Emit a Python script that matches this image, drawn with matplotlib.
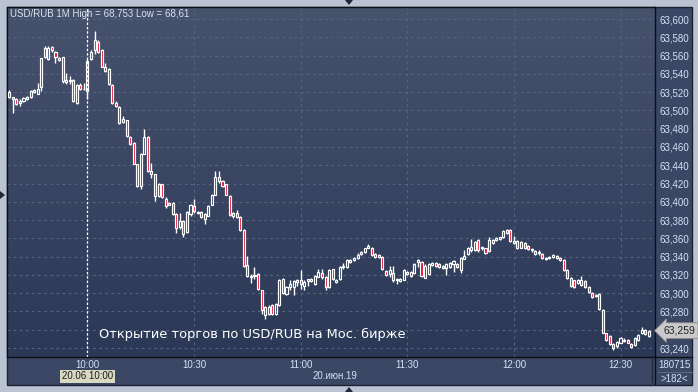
import matplotlib
matplotlib.use('Agg')
import matplotlib.pyplot as plt
import numpy as np
from matplotlib.colors import LinearSegmentedColormap
from matplotlib.patches import Rectangle, Polygon
from matplotlib.lines import Line2D

# 1-minute USD/RUB candles, 09:38 .. 12:38 (20.06.19)
opens = [
    63.515, 63.513, 63.513, 63.508, 63.510, 63.512, 63.515, 63.520, 63.518, 63.526,
    63.558, 63.556, 63.569, 63.564, 63.555, 63.558, 63.531, 63.532, 63.533, 63.508,
    63.528, 63.523, 63.521, 63.556, 63.566, 63.575, 63.566, 63.548, 63.545, 63.528,
    63.508, 63.504, 63.487, 63.489, 63.471, 63.464, 63.441, 63.417, 63.452, 63.471,
    63.434, 63.430, 63.406, 63.419, 63.403, 63.397, 63.399, 63.387, 63.372, 63.379,
    63.367, 63.387, 63.395, 63.388, 63.389, 63.381, 63.385, 63.397, 63.408, 63.427,
    63.423, 63.419, 63.406, 63.385, 63.388, 63.383, 63.369, 63.331, 63.318, 63.319,
    63.321, 63.303, 63.276, 63.277, 63.287, 63.277, 63.287, 63.316, 63.299, 63.307,
    63.307, 63.312, 63.314, 63.308, 63.313, 63.316, 63.310, 63.318, 63.322, 63.318,
    63.307, 63.326, 63.312, 63.316, 63.329, 63.329, 63.334, 63.336, 63.338, 63.343,
    63.345, 63.350, 63.350, 63.343, 63.340, 63.340, 63.324, 63.321, 63.322, 63.314,
    63.313, 63.315, 63.321, 63.319, 63.322, 63.334, 63.334, 63.317, 63.321, 63.331,
    63.333, 63.329, 63.330, 63.328, 63.329, 63.332, 63.332, 63.325, 63.337, 63.343,
    63.347, 63.347, 63.358, 63.350, 63.349, 63.346, 63.355, 63.358, 63.359, 63.361,
    63.369, 63.369, 63.355, 63.357, 63.350, 63.355, 63.352, 63.347, 63.346, 63.344,
    63.343, 63.339, 63.338, 63.340, 63.341, 63.339, 63.336, 63.325, 63.317, 63.314,
    63.311, 63.309, 63.313, 63.307, 63.300, 63.297, 63.299, 63.282, 63.256, 63.253,
    63.244, 63.242, 63.246, 63.248, 63.249, 63.244, 63.243, 63.249, 63.256, 63.260,
    63.253,
]
closes = [
    63.520, 63.515, 63.507, 63.510, 63.514, 63.515, 63.521, 63.522, 63.524, 63.557,
    63.568, 63.568, 63.566, 63.558, 63.557, 63.532, 63.533, 63.533, 63.510, 63.528,
    63.524, 63.524, 63.554, 63.564, 63.577, 63.564, 63.548, 63.543, 63.529, 63.508,
    63.505, 63.486, 63.491, 63.472, 63.463, 63.441, 63.417, 63.452, 63.471, 63.434,
    63.430, 63.406, 63.420, 63.405, 63.395, 63.399, 63.387, 63.371, 63.379, 63.365,
    63.389, 63.396, 63.390, 63.389, 63.383, 63.387, 63.395, 63.408, 63.427, 63.423,
    63.417, 63.408, 63.386, 63.388, 63.383, 63.369, 63.330, 63.319, 63.319, 63.320,
    63.305, 63.282, 63.285, 63.285, 63.277, 63.288, 63.315, 63.300, 63.307, 63.310,
    63.313, 63.315, 63.310, 63.312, 63.316, 63.313, 63.319, 63.323, 63.318, 63.307,
    63.325, 63.316, 63.315, 63.329, 63.330, 63.336, 63.336, 63.339, 63.342, 63.345,
    63.349, 63.352, 63.342, 63.340, 63.342, 63.326, 63.320, 63.325, 63.315, 63.316,
    63.316, 63.325, 63.323, 63.323, 63.332, 63.336, 63.319, 63.330, 63.332, 63.333,
    63.330, 63.332, 63.328, 63.332, 63.333, 63.335, 63.329, 63.339, 63.341, 63.350,
    63.351, 63.356, 63.347, 63.351, 63.344, 63.358, 63.358, 63.360, 63.361, 63.368,
    63.366, 63.357, 63.357, 63.349, 63.356, 63.349, 63.348, 63.348, 63.343, 63.345,
    63.338, 63.337, 63.340, 63.342, 63.338, 63.336, 63.325, 63.317, 63.308, 63.307,
    63.315, 63.315, 63.307, 63.301, 63.296, 63.298, 63.283, 63.257, 63.249, 63.244,
    63.240, 63.247, 63.251, 63.249, 63.246, 63.241, 63.251, 63.254, 63.260, 63.255,
    63.259,
]
highs = [
    63.522, 63.515, 63.514, 63.512, 63.515, 63.516, 63.522, 63.523, 63.530, 63.557,
    63.570, 63.570, 63.571, 63.565, 63.558, 63.559, 63.541, 63.538, 63.534, 63.529,
    63.530, 63.530, 63.556, 63.566, 63.587, 63.577, 63.567, 63.552, 63.546, 63.529,
    63.510, 63.505, 63.494, 63.490, 63.472, 63.465, 63.441, 63.453, 63.480, 63.472,
    63.442, 63.431, 63.421, 63.420, 63.405, 63.400, 63.400, 63.388, 63.388, 63.380,
    63.390, 63.398, 63.403, 63.390, 63.390, 63.388, 63.396, 63.409, 63.434, 63.434,
    63.424, 63.420, 63.407, 63.389, 63.391, 63.384, 63.370, 63.341, 63.321, 63.329,
    63.322, 63.304, 63.286, 63.287, 63.288, 63.289, 63.316, 63.317, 63.308, 63.315,
    63.315, 63.316, 63.325, 63.314, 63.316, 63.317, 63.320, 63.327, 63.327, 63.319,
    63.326, 63.327, 63.316, 63.330, 63.333, 63.337, 63.337, 63.340, 63.344, 63.346,
    63.350, 63.354, 63.351, 63.344, 63.343, 63.341, 63.325, 63.330, 63.330, 63.317,
    63.317, 63.327, 63.324, 63.324, 63.333, 63.337, 63.335, 63.332, 63.333, 63.334,
    63.334, 63.333, 63.331, 63.333, 63.334, 63.336, 63.333, 63.340, 63.347, 63.351,
    63.359, 63.357, 63.359, 63.352, 63.350, 63.361, 63.359, 63.361, 63.362, 63.369,
    63.370, 63.370, 63.363, 63.358, 63.357, 63.356, 63.353, 63.350, 63.347, 63.347,
    63.344, 63.340, 63.341, 63.343, 63.342, 63.340, 63.337, 63.326, 63.318, 63.315,
    63.316, 63.319, 63.314, 63.308, 63.301, 63.299, 63.300, 63.283, 63.257, 63.254,
    63.245, 63.248, 63.252, 63.251, 63.250, 63.245, 63.252, 63.255, 63.263, 63.261,
    63.260,
]
lows = [
    63.514, 63.497, 63.506, 63.505, 63.509, 63.511, 63.514, 63.519, 63.518, 63.521,
    63.557, 63.555, 63.564, 63.552, 63.554, 63.530, 63.529, 63.529, 63.509, 63.507,
    63.522, 63.522, 63.513, 63.555, 63.562, 63.563, 63.547, 63.542, 63.528, 63.507,
    63.504, 63.485, 63.486, 63.471, 63.462, 63.441, 63.416, 63.414, 63.452, 63.433,
    63.426, 63.401, 63.405, 63.404, 63.393, 63.396, 63.386, 63.366, 63.370, 63.361,
    63.366, 63.385, 63.388, 63.387, 63.382, 63.376, 63.384, 63.396, 63.408, 63.421,
    63.416, 63.407, 63.385, 63.382, 63.382, 63.368, 63.329, 63.318, 63.311, 63.316,
    63.304, 63.277, 63.272, 63.276, 63.276, 63.276, 63.286, 63.299, 63.298, 63.304,
    63.298, 63.308, 63.305, 63.304, 63.308, 63.312, 63.309, 63.318, 63.316, 63.303,
    63.306, 63.315, 63.311, 63.315, 63.327, 63.328, 63.333, 63.335, 63.337, 63.342,
    63.344, 63.349, 63.341, 63.339, 63.339, 63.325, 63.319, 63.318, 63.312, 63.310,
    63.312, 63.314, 63.320, 63.318, 63.321, 63.329, 63.318, 63.317, 63.320, 63.330,
    63.329, 63.328, 63.327, 63.320, 63.328, 63.323, 63.328, 63.322, 63.337, 63.342,
    63.345, 63.346, 63.345, 63.347, 63.343, 63.345, 63.354, 63.357, 63.358, 63.360,
    63.365, 63.356, 63.354, 63.348, 63.349, 63.348, 63.347, 63.345, 63.342, 63.342,
    63.337, 63.336, 63.337, 63.339, 63.337, 63.335, 63.324, 63.316, 63.307, 63.306,
    63.310, 63.308, 63.306, 63.300, 63.295, 63.296, 63.282, 63.256, 63.248, 63.243,
    63.238, 63.240, 63.245, 63.247, 63.245, 63.240, 63.242, 63.248, 63.255, 63.254,
    63.252,
]

time_ticks = [22, 52, 82, 112, 142, 172]          # candle index of each label
time_labels = ['10:00', '10:30', '11:00', '11:30', '12:00', '12:30']
price_ticks = [63.24, 63.26, 63.28, 63.30, 63.32, 63.34, 63.36, 63.38, 63.40,
               63.42, 63.44, 63.46, 63.48, 63.50, 63.52, 63.54, 63.56, 63.58, 63.60]
hidden_price_label = 63.26   # covered by the last-price marker
open_idx = 22
title = 'USD/RUB 1M High = 68,753 Low = 68,61'
note = 'Открытие торгов по USD/RUB на Мос. бирже'

W, H = 698, 392
def fx(px):
    return px / W
def fy(py):
    return 1 - py / H

plt.rcParams['font.family'] = ['Liberation Sans', 'DejaVu Sans']

fig = plt.figure(figsize=(W / 100, H / 100), dpi=100)
fig.patch.set_facecolor('#b9c3d1')

# dark panel behind plot + axis strips
fig.patches.append(Rectangle((fx(7), fy(384.5)), fx(692) - fx(7), fy(7) - fy(384.5),
                             transform=fig.transFigure, facecolor='#3b4765',
                             edgecolor='#1b2130', lw=1, zorder=-1))

ax = fig.add_axes([fx(7.5), fy(357), fx(655) - fx(7.5), fy(7) - fy(357)])
ax.set_zorder(1)
xlim = (-0.5, 181.7)
ylim = (63.2302, 63.6132)

bg = LinearSegmentedColormap.from_list('bg', ['#47526d', '#2b3856'])
ax.imshow(np.linspace(0, 1, 256).reshape(-1, 1), cmap=bg, aspect='auto',
          extent=[xlim[0], xlim[1], ylim[0], ylim[1]], zorder=0)

# grid
for p in price_ticks:
    ax.axhline(p, color='#56637f', lw=0.8, dashes=(2.5, 3), zorder=1)
for t in time_ticks[1:]:
    ax.axvline(t, color='#56637f', lw=0.8, dashes=(2.5, 3), zorder=1)
ax.axvline(open_idx, color='white', lw=0.9, dashes=(2, 1.5), zorder=2)

# candles
x = np.arange(len(opens))
o = np.array(opens)
c = np.array(closes)
top = np.maximum(o, c)
bot = np.minimum(o, c)
ax.vlines(x, top, highs, color='white', lw=1, zorder=3)
ax.vlines(x, lows, bot, color='white', lw=1, zorder=3)
height = np.maximum(top - bot, 0.0004)
fills = ['#e0102e' if cl < op else 'none' for op, cl in zip(opens, closes)]
ax.bar(x, height, bottom=bot, width=0.58, color=fills, edgecolor='white',
       lw=0.85, zorder=4)

ax.set_xlim(*xlim)
ax.set_ylim(*ylim)

ax.set_xticks(time_ticks)
ax.set_xticklabels(time_labels)
ax.set_yticks(price_ticks)
ax.set_yticklabels(['' if abs(p - hidden_price_label) < 1e-9 else f'{p:.3f}'.replace('.', ',')
                    for p in price_ticks])
ax.yaxis.tick_right()
ax.tick_params(axis='both', length=0, labelsize=7, colors='#d3e2f4')
ax.tick_params(axis='x', pad=2.5)
ax.tick_params(axis='y', pad=3)
for s in ax.spines.values():
    s.set_color('#0c0f16')
    s.set_linewidth(1)

# separator lines in the axis strips
fig.add_artist(Line2D([fx(655), fx(655)], [fy(357), fy(384)], color='#0c0f16', lw=1))
fig.add_artist(Line2D([fx(655), fx(692)], [fy(357), fy(357)], color='#0c0f16', lw=1))
fig.add_artist(Line2D([fx(651.5), fx(651.5)], [fy(359), fy(382)], color='#222a3c', lw=1))
fig.add_artist(Line2D([fx(658), fx(692)], [fy(372), fy(372)], color='#5d6984', lw=0.8))

fig.text(fx(10), fy(14), title, color='#d8e3f0', fontsize=7, va='center', ha='left',
         zorder=5)
ax.text(0.141, 0.065, note, transform=ax.transAxes, color='white', fontsize=9.4,
        family='DejaVu Sans', va='center', ha='left', zorder=6)

ax.annotate('20.06 10:00', xy=(open_idx, 0), xycoords=('data', 'axes fraction'),
            xytext=(0, -14), textcoords='offset points', ha='center', va='center',
            fontsize=7, color='#1c1c1c', annotation_clip=False,
            bbox=dict(boxstyle='square,pad=0.2', fc='#d9d9c3', ec='none'))
fig.text(fx(335), fy(376), '20.июн.19', color='#d3e2f4', fontsize=7, ha='center', va='center')
fig.text(fx(674), fy(365), '180715', color='#d3e2f4', fontsize=7, ha='center', va='center')
fig.text(fx(674), fy(378.5), '>182<', color='#d3e2f4', fontsize=7, ha='center', va='center')

ax.annotate(f'{closes[-1]:.3f}'.replace('.', ','), xy=(1, closes[-1]),
            xycoords=('axes fraction', 'data'), xytext=(6, 0), textcoords='offset points',
            ha='left', va='center', fontsize=7.5, color='#222222', annotation_clip=False,
            bbox=dict(boxstyle='larrow,pad=0.28', fc='#c9c9c9', ec='#8a8a8a', lw=0.6),
            zorder=7)

# little window-control triangles on the frame
tri = '#1e2638'
fig.patches.append(Polygon([(fx(345), fy(0)), (fx(353), fy(0)), (fx(349), fy(5))],
                           closed=True, transform=fig.transFigure, fc=tri, ec='none'))
fig.patches.append(Polygon([(fx(345), fy(392)), (fx(353), fy(392)), (fx(349), fy(387))],
                           closed=True, transform=fig.transFigure, fc=tri, ec='none'))
fig.patches.append(Polygon([(fx(0), fy(191)), (fx(0), fy(199)), (fx(5), fy(195))],
                           closed=True, transform=fig.transFigure, fc=tri, ec='none'))

fig.savefig('out.png', dpi=100, facecolor=fig.get_facecolor())
